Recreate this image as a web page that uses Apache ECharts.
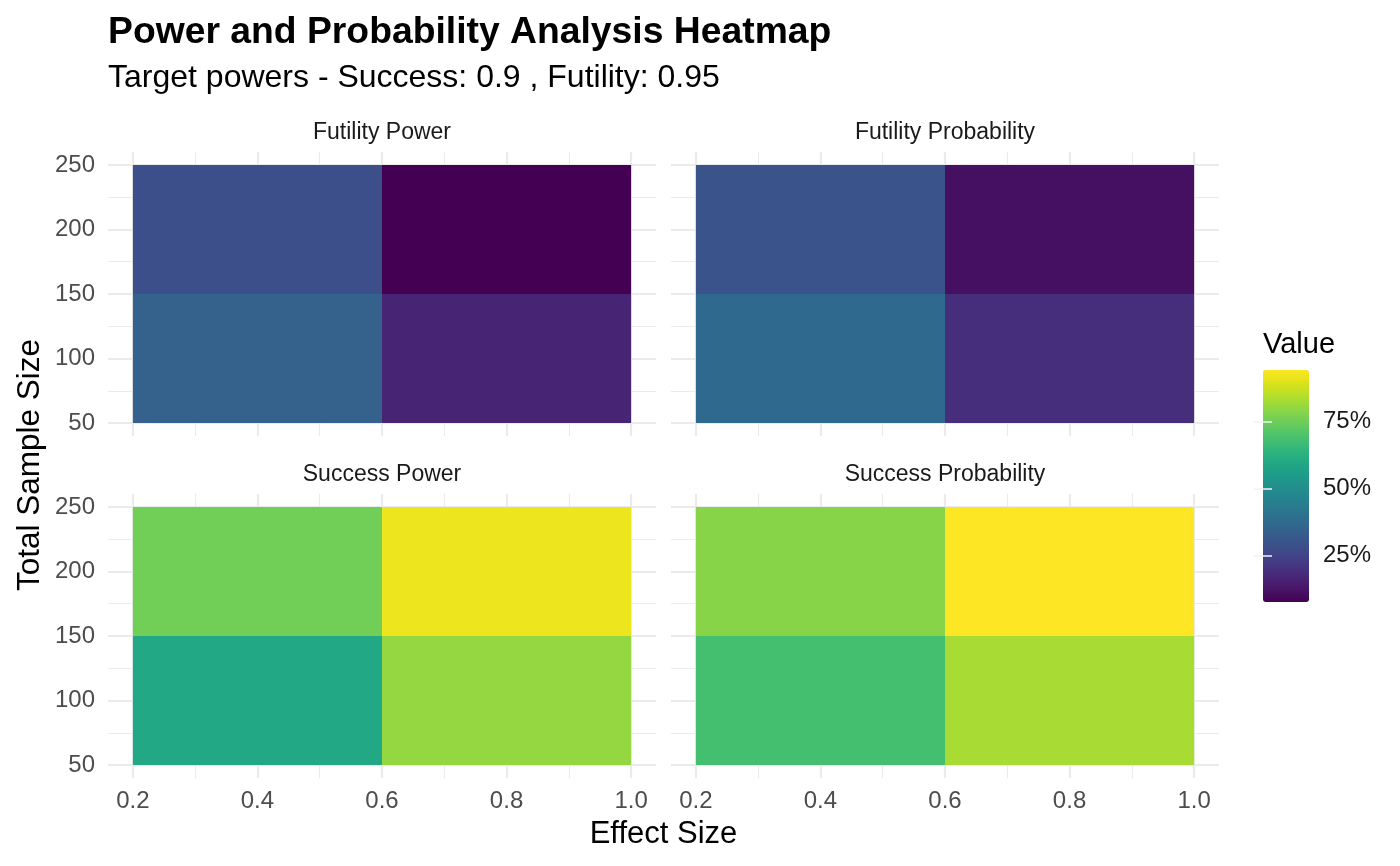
<!DOCTYPE html>
<html><head><meta charset="utf-8">
<script src="https://cdn.jsdelivr.net/npm/echarts@6/dist/echarts.min.js"></script>
<style>html,body{margin:0;padding:0;background:#fff}#chart{width:1400px;height:866px}</style>
</head><body><div id="chart"></div>
<script>
// ---------- data ----------
const effectSizes = [0.4, 0.8];
const sampleSizes = [100, 200];
const panelNames = ['Futility Power', 'Futility Probability', 'Success Power', 'Success Probability'];
// values (%) ordered: (0.4,100), (0.8,100), (0.4,200), (0.8,200)
const futilityPower = [34.5, 16.3, 28.4, 7.6];
const futilityProbability = [37.1, 18.9, 30.1, 11.1];
const successPower = [59.6, 80.4, 75.6, 92.0];
const successProbability = [68.3, 83.0, 78.7, 94.3];
const xTicks = [0.2, 0.4, 0.6, 0.8, 1.0];
const xMinor = [0.3, 0.5, 0.7, 0.9];
const yTicks = [50, 100, 150, 200, 250];
const yMinor = [75, 125, 175, 225];
const legendTicks = [25, 50, 75];

// ---------- styles ----------
const viridis = ['#440154','#471365','#482475','#463480','#414487','#3b528b','#355f8d','#2f6c8e','#2a788e','#25848e','#21918c','#1e9c89','#22a884','#2fb47c','#44bf70','#5ec962','#7ad151','#9bd93c','#bddf26','#dfe318','#fde725'];
const FONT = '"Liberation Sans", Arial, sans-serif';
const gridColor = '#ebebeb';
const panelLeft = [108, 671];
const panelTop = [152, 494];
const panelW = 548, panelH = 284;

const panelValues = [futilityPower, futilityProbability, successPower, successProbability];
const xStep = effectSizes[1] - effectSizes[0];
const yStep = sampleSizes[1] - sampleSizes[0];
const xLo = effectSizes[0] - xStep / 2, xHi = effectSizes[effectSizes.length - 1] + xStep / 2;
const yLo = sampleSizes[0] - yStep / 2, yHi = sampleSizes[sampleSizes.length - 1] + yStep / 2;
const xMin = xLo - 0.05 * (xHi - xLo), xMax = xHi + 0.05 * (xHi - xLo);
const yMin = yLo - 0.05 * (yHi - yLo), yMax = yHi + 0.05 * (yHi - yLo);
const allVals = [].concat(...panelValues);
const vMin = Math.min(...allVals), vMax = Math.max(...allVals);

const grids = [], xAxes = [], yAxes = [], series = [], graphics = [];
panelValues.forEach((vals, i) => {
  const row = Math.floor(i / 2), col = i % 2;
  grids.push({left: panelLeft[col], top: panelTop[row], width: panelW, height: panelH});
  xAxes.push({
    type: 'value', gridIndex: i, min: xMin, max: xMax, position: 'bottom',
    axisLine: {show: false}, axisTick: {show: false, customValues: xTicks},
    axisLabel: {show: row === 1, customValues: xTicks, formatter: v => v.toFixed(1), color: '#4d4d4d', fontSize: 24, fontFamily: FONT, margin: 11},
    splitLine: {show: true, lineStyle: {color: gridColor, width: 2.2}}
  });
  xAxes.push({
    type: 'value', gridIndex: i, min: xMin, max: xMax, position: 'top',
    axisLine: {show: false}, axisTick: {show: false, customValues: xMinor},
    axisLabel: {show: false, customValues: xMinor},
    splitLine: {show: true, lineStyle: {color: gridColor, width: 1.1}}
  });
  yAxes.push({
    type: 'value', gridIndex: i, min: yMin, max: yMax, position: 'left',
    axisLine: {show: false}, axisTick: {show: false, customValues: yTicks},
    axisLabel: {show: col === 0, customValues: yTicks, color: '#4d4d4d', fontSize: 24, fontFamily: FONT, margin: 13},
    splitLine: {show: true, lineStyle: {color: gridColor, width: 2.2}}
  });
  yAxes.push({
    type: 'value', gridIndex: i, min: yMin, max: yMax, position: 'right',
    axisLine: {show: false}, axisTick: {show: false, customValues: yMinor},
    axisLabel: {show: false, customValues: yMinor},
    splitLine: {show: true, lineStyle: {color: gridColor, width: 1.1}}
  });
  const data = [];
  sampleSizes.forEach((s, j) => effectSizes.forEach((e, k) => data.push([e, s, vals[j * effectSizes.length + k]])));
  series.push({
    type: 'custom', name: panelNames[i], xAxisIndex: 2 * i, yAxisIndex: 2 * i,
    encode: {x: 0, y: 1},
    renderItem: (params, api) => {
      const x = api.value(0), y = api.value(1);
      const p0 = api.coord([x - xStep / 2, y + yStep / 2]);
      const p1 = api.coord([x + xStep / 2, y - yStep / 2]);
      return {type: 'rect', shape: {x: p0[0], y: p0[1], width: p1[0] - p0[0], height: p1[1] - p0[1]}, style: {fill: api.visual('color')}};
    },
    data: data
  });
  graphics.push({type: 'text', x: panelLeft[col] + panelW / 2, y: panelTop[row] - 19,
    style: {text: panelNames[i], font: '23px ' + FONT, fill: '#1a1a1a', textAlign: 'center', textVerticalAlign: 'middle'}});
});

// colour bar grid (for tick marks and labels)
const cb = {left: 1263, top: 370, width: 46, height: 232};
grids.push({left: cb.left, top: cb.top, width: cb.width, height: cb.height});
xAxes.push({type: 'value', gridIndex: 4, show: false, min: 0, max: 1});
yAxes.push({
  type: 'value', gridIndex: 4, min: vMin, max: vMax, position: 'right', z: 10,
  axisLine: {show: false},
  axisTick: {show: true, inside: true, length: 9, customValues: legendTicks, lineStyle: {color: '#f2f2f2', width: 1.5}},
  axisLabel: {customValues: legendTicks, formatter: '{value}%', color: '#1a1a1a', fontSize: 24, fontFamily: FONT, margin: 14},
  splitLine: {show: false}
});
yAxes.push({
  type: 'value', gridIndex: 4, min: vMin, max: vMax, position: 'left', z: 10,
  axisLine: {show: false},
  axisTick: {show: true, inside: true, length: 9, customValues: legendTicks, lineStyle: {color: '#f2f2f2', width: 1.5}},
  axisLabel: {show: false, customValues: legendTicks},
  splitLine: {show: false}
});

graphics.push({type: 'text', x: (panelLeft[0] + panelLeft[1] + panelW) / 2, y: 834,
  style: {text: 'Effect Size', font: '31px ' + FONT, fill: '#000', textAlign: 'center', textVerticalAlign: 'middle'}});
graphics.push({type: 'text', x: 30, y: panelTop[0] + (panelTop[1] + panelH - panelTop[0]) / 2, rotation: Math.PI / 2,
  style: {text: 'Total Sample Size', font: '31.5px ' + FONT, fill: '#000', textAlign: 'center', textVerticalAlign: 'middle'}});
graphics.push({type: 'text', x: cb.left, y: 345,
  style: {text: 'Value', font: '29px ' + FONT, fill: '#000', textAlign: 'left', textVerticalAlign: 'middle'}});

const chart = echarts.init(document.getElementById('chart'), null, {renderer: 'canvas'});
chart.setOption({
  backgroundColor: '#ffffff',
  animation: false,
  title: [
    {text: 'Power and Probability Analysis Heatmap', left: 108, top: 14, padding: 0,
     textStyle: {fontSize: 37.3, fontWeight: 'bold', color: '#000', fontFamily: FONT}},
    {text: 'Target powers - Success: 0.9 , Futility: 0.95', left: 108, top: 62, padding: 0,
     textStyle: {fontSize: 32, fontWeight: 'normal', color: '#000', fontFamily: FONT}}
  ],
  grid: grids,
  xAxis: xAxes,
  yAxis: yAxes,
  visualMap: {
    type: 'continuous', seriesIndex: [0, 1, 2, 3], dimension: 2,
    min: vMin, max: vMax, calculable: false, hoverLink: false,
    left: cb.left, top: cb.top, itemWidth: cb.width, itemHeight: cb.height, padding: 0,
    inRange: {color: viridis}, z: 2
  },
  graphic: graphics,
  series: series
});
</script></body></html>
